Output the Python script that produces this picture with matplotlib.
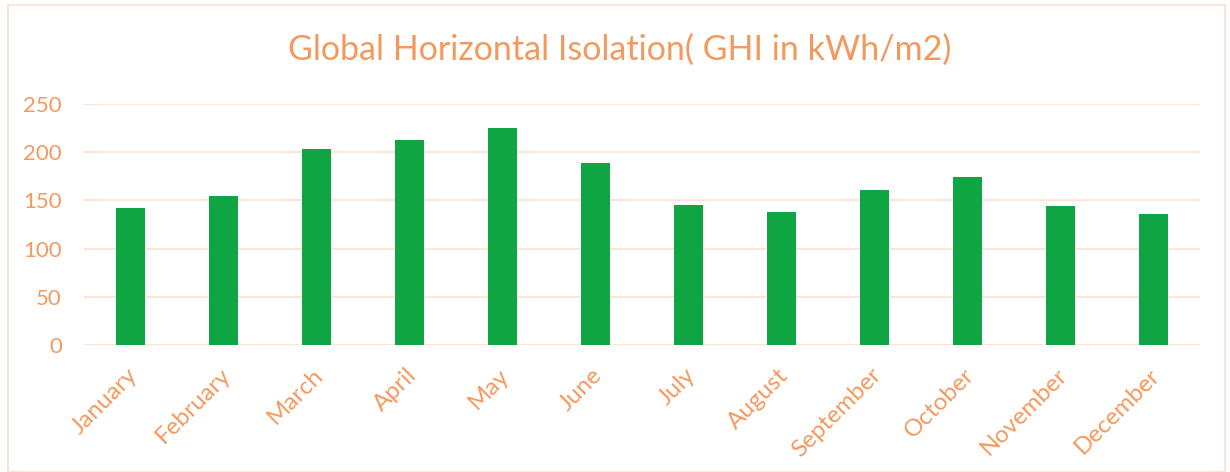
import matplotlib
matplotlib.use("Agg")
import matplotlib.pyplot as plt
from matplotlib.patches import Rectangle
from matplotlib.transforms import ScaledTranslation

months = ["January", "February", "March", "April", "May", "June", "July",
          "August", "September", "October", "November", "December"]
ghi = [142, 155, 203, 213, 225, 189, 145, 138, 161, 174, 144, 136]
yticks = [0, 50, 100, 150, 200, 250]
title = "Global Horizontal Isolation( GHI in kWh/m2)"

orange = "#F4995E"
grid_c = "#FCE4D6"
green = "#10A543"

plt.rcParams['font.family'] = ['Lato', 'DejaVu Sans']

fig = plt.figure(figsize=(12.3, 4.72), dpi=100)
fig.patches.append(Rectangle((8/1230, 0), 1 - 13/1230, 1 - 5/472, transform=fig.transFigure,
                             fill=False, edgecolor=grid_c, linewidth=1.5))
ax = fig.add_axes([84/1230, (472-345)/472, (1200-84)/1230, (345-104)/472])

x = list(range(len(months)))
ax.bar(x, ghi, width=0.31, color=green, zorder=3)
ax.set_xlim(-0.5, len(months) - 0.5)
ax.set_ylim(0, 250)
ax.set_yticks(yticks)
ax.set_yticklabels([str(v) for v in yticks], color=orange, fontsize=16)
ax.set_xticks(x)
ax.set_xticklabels(months, rotation=45, ha='right', rotation_mode='anchor',
                   color=orange, fontsize=17.5)
ax.tick_params(axis='both', length=0)
ax.tick_params(axis='y', pad=16)
ax.tick_params(axis='x', pad=14)
shift = ScaledTranslation(-4/100, 0, fig.dpi_scale_trans)
for lbl in ax.get_xticklabels():
    lbl.set_transform(lbl.get_transform() + shift)
ax.grid(axis='y', color=grid_c, linewidth=1.5, zorder=0)
for s in ax.spines.values():
    s.set_visible(False)
fig.text(620/1230, 1 - 50/472, title, ha='center', va='center', color=orange, fontsize=24.5)

fig.savefig("out.png", dpi=100)
